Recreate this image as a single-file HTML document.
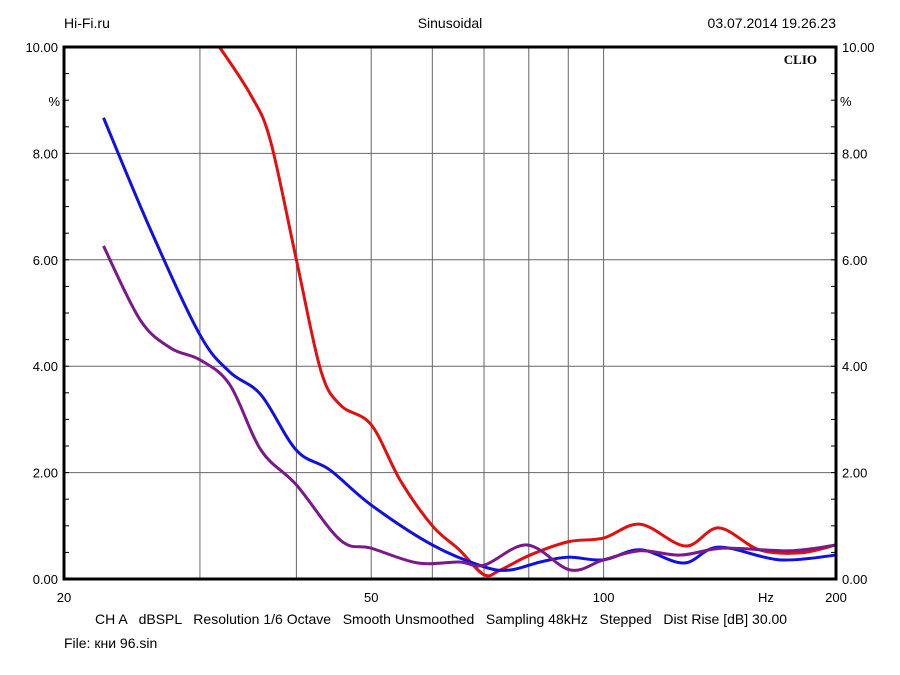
<!DOCTYPE html>
<html><head><meta charset="utf-8"><style>
body{margin:0;background:#fff;}
svg{display:block;font-family:"Liberation Sans",sans-serif;}
</style></head><body>
<svg id="chart" width="900" height="675" viewBox="0 0 900 675">
<text x="64" y="28" font-size="14">Hi-Fi.ru</text>
<text x="450" y="28" font-size="14" text-anchor="middle">Sinusoidal</text>
<text x="836" y="28" font-size="14" text-anchor="end">03.07.2014 19.26.23</text>
<g id="grid"></g>
<g id="ticks"></g>
<g id="series"></g>
<rect x="64" y="47" width="772" height="532" fill="none" stroke="#000" stroke-width="3"/>
<text x="817" y="64" font-size="13" font-weight="bold" font-family="Liberation Serif,serif" text-anchor="end">CLIO</text>
<text x="60" y="106" font-size="13" text-anchor="end">%</text>
<text x="840" y="106" font-size="13">%</text>
<text x="766" y="602" font-size="13" text-anchor="middle">Hz</text>
<text x="95" y="624" font-size="14" style="white-space:pre" xml:space="preserve">CH A   dBSPL   Resolution 1/6 Octave   Smooth Unsmoothed   Sampling 48kHz   Stepped   Dist Rise [dB] 30.00</text>
<text x="64" y="648" font-size="14" font-family="Liberation Sans,DejaVu Sans,sans-serif">File: кни 96.sin</text>
</svg>
<script>
const xGrid=[30,40,50,60,70,80,90,100];
const xLabels=[20,50,100,200];
const yTicks=[0,2,4,6,8,10];
const redF=[31.8,34.9,37,40,43,45.6,50,54.5,60,65,70,73.5,80.3,90,100,111.6,127.6,141,159,179.6,200];
const redV=[10,9.1,8.25,6.0,3.93,3.27,2.9,1.86,1.0,0.55,0.08,0.17,0.45,0.7,0.77,1.03,0.62,0.96,0.55,0.49,0.64];
const blueF=[22.5,25.9,30,32.8,36,40,44.2,50,60,70,75.7,82.8,90,100,111.6,127,141,169,200];
const blueV=[8.67,6.56,4.59,3.89,3.46,2.42,2.05,1.39,0.64,0.23,0.17,0.32,0.41,0.36,0.55,0.3,0.6,0.36,0.45];
const purpleF=[22.5,25.1,27.5,30,32.8,36,40,45.6,50,57.5,65,70,79.6,90.5,100,111.6,125.8,143,174,200];
const purpleV=[6.26,4.87,4.34,4.12,3.65,2.42,1.77,0.73,0.58,0.3,0.32,0.26,0.64,0.17,0.36,0.53,0.45,0.58,0.53,0.64];
const X0=64,X1=836,Y0=579,Y1=47;
const xs=f=>X0+(X1-X0)*Math.log10(f/20);
const ys=v=>Y0-(Y0-Y1)*v/10;
const NS="http://www.w3.org/2000/svg";
function mk(t,a,p){const e=document.createElementNS(NS,t);for(const k in a)e.setAttribute(k,a[k]);p.appendChild(e);return e;}
const grid=document.getElementById('grid'),ticks=document.getElementById('ticks'),ser=document.getElementById('series');
xGrid.forEach(f=>{const l=mk('line',{x1:xs(f),x2:xs(f),y1:Y1,y2:Y0,stroke:'#666','stroke-width':1},grid);

});
yTicks.forEach(v=>{
if(v>0&&v<10){const l=mk('line',{x1:X0,x2:X1,y1:ys(v),y2:ys(v),stroke:'#666','stroke-width':1},grid);

}
const s=v.toFixed(2);
const a=mk('text',{x:58,y:ys(v)+5,'font-size':13,'text-anchor':'end'},ticks);a.textContent=s;


const b=mk('text',{x:842,y:ys(v)+5,'font-size':13},ticks);b.textContent=s;


});
for(let v=0;v<10;v+=0.5){[[X0,X0+5],[X1-5,X1]].forEach(p=>{const l=mk('line',{x1:p[0],x2:p[1],y1:ys(v),y2:ys(v),stroke:'#000'},ticks);

});}
xLabels.forEach(f=>{const t=mk('text',{x:xs(f),y:602,'font-size':13,'text-anchor':'middle'},ticks);t.textContent=f;

});
function path(F,V){const p=F.map((f,i)=>[xs(f),ys(V[i])]);let d='M'+p[0][0]+','+p[0][1];
for(let i=0;i<p.length-1;i++){const a=p[i-1]||p[i],b=p[i],c=p[i+1],e=p[i+2]||c;
d+=' C'+(b[0]+(c[0]-a[0])/6)+','+(b[1]+(c[1]-a[1])/6)+' '+(c[0]-(e[0]-b[0])/6)+','+(c[1]-(e[1]-b[1])/6)+' '+c[0]+','+c[1];}return d;}
const r=mk('path',{d:path(redF,redV),fill:'none',stroke:'#e01010','stroke-width':3},ser);


const bl=mk('path',{d:path(blueF,blueV),fill:'none',stroke:'#1010e0','stroke-width':3},ser);


const pu=mk('path',{d:path(purpleF,purpleV),fill:'none',stroke:'#7a1a8a','stroke-width':3},ser);


</script>
</body></html>
